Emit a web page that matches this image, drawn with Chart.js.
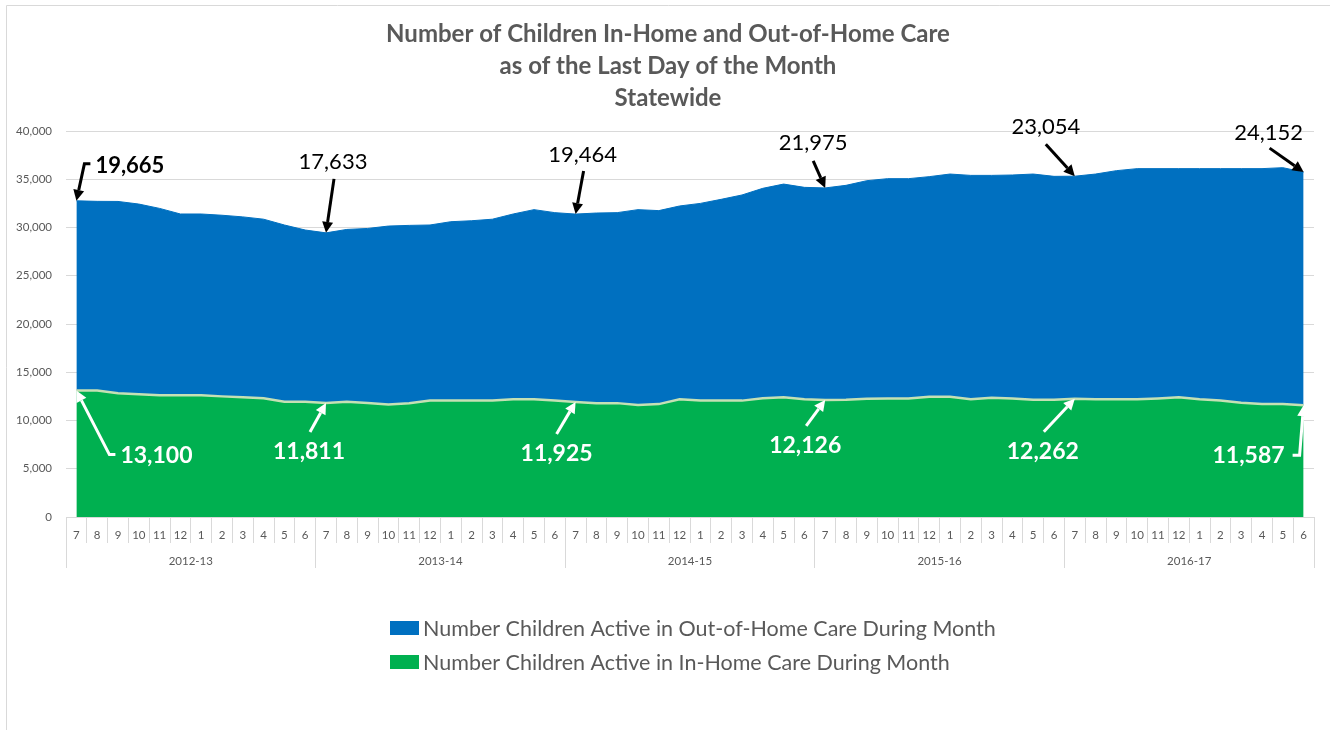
<!DOCTYPE html>
<html><head><meta charset="utf-8">
<script src="https://cdn.jsdelivr.net/npm/chart.js@4.4.1/dist/chart.umd.min.js"></script>
<style>html,body{margin:0;padding:0;background:#fff;overflow:hidden}</style>
</head><body>
<canvas id="c" width="1330" height="730" style="width:1330px;height:730px;display:block"></canvas>
<script>
const titleLines = ['Number of Children In-Home and Out-of-Home Care', 'as of the Last Day of the Month', 'Statewide'];
const months = ['7','8','9','10','11','12','1','2','3','4','5','6',
                '7','8','9','10','11','12','1','2','3','4','5','6',
                '7','8','9','10','11','12','1','2','3','4','5','6',
                '7','8','9','10','11','12','1','2','3','4','5','6',
                '7','8','9','10','11','12','1','2','3','4','5','6'];
const fiscalYears = ['2012-13','2013-14','2014-15','2015-16','2016-17'];
const outOfHomeLabel = 'Number Children Active in Out-of-Home Care During Month';
const inHomeLabel = 'Number Children Active in In-Home Care During Month';
const outOfHome = [19665,19610,19880,19710,19370,18790,18790,18770,18700,18560,18310,17790,
                   17633,17850,18090,18480,18420,18200,18540,18640,18800,19210,19660,19480,
                   19464,19700,19740,20250,20050,20040,20440,20860,21310,21760,22100,21970,
                   21975,22220,22600,22780,22780,22800,23070,23200,23030,23160,23390,23150,
                   23054,23340,23690,23900,23820,23700,23900,24040,24250,24400,24500,24152];
const inHome = [13100,13100,12820,12720,12610,12610,12610,12500,12400,12300,11950,11950,
                11811,11950,11811,11670,11800,12060,12060,12060,12060,12190,12190,12060,
                11925,11800,11800,11600,11700,12190,12060,12060,12060,12300,12400,12190,
                12126,12150,12250,12280,12280,12470,12470,12200,12370,12280,12150,12150,
                12262,12200,12200,12200,12280,12400,12200,12060,11850,11700,11700,11587];
const yMin = 0, yMax = 40000, yStep = 5000;
// callouts: [dataset key, index, label, bold]
const callouts = [
  ['out',0,'19,665',true],['out',12,'17,633',false],['out',24,'19,464',false],
  ['out',36,'21,975',false],['out',48,'23,054',false],['out',59,'24,152',false],
  ['in',0,'13,100',true],['in',12,'11,811',true],['in',24,'11,925',true],
  ['in',36,'12,126',true],['in',48,'12,262',true],['in',59,'11,587',true]
];
// drawing styles for each callout (label offset, align, arrow path offsets relative to tip)
const calloutStyle = [
  {lx:19,ly:-35,align:'left',path:[[14,-37],[8,-37]]},
  {lx:7,ly:-71,align:'center',path:[[8,-54]]},
  {lx:7,ly:-59,align:'center',path:[[8,-43]]},
  {lx:-12,ly:-45,align:'center',path:[[-12,-27]]},
  {lx:-29,ly:-49,align:'center',path:[[-29,-32]]},
  {lx:-35,ly:-39,align:'center',path:[[-34,-24]]},
  {lx:44,ly:65,align:'left',path:[[39,64],[33,64]]},
  {lx:-17,ly:49,align:'center',path:[[-16,29]]},
  {lx:-19,ly:52,align:'center',path:[[-19,32]]},
  {lx:-20,ly:46,align:'center',path:[[-19,26]]},
  {lx:-32,ly:53,align:'center',path:[[-31,33]]},
  {lx:-19,ly:50,align:'right',path:[[-11,50],[-4,50]]}
];

const FONT = 'Lato, "Open Sans", sans-serif';
const GRAY = '#595959';
const BLUE = '#0070C0';
const GREEN = '#00B050';

function arrow(ctx, pts, color) {
  const n = pts.length;
  const [tx, ty] = pts[n-1];
  const [px, py] = pts[n-2];
  const ang = Math.atan2(ty - py, tx - px);
  const L = 11, W = 5.5;
  const bx = tx - L * Math.cos(ang), by = ty - L * Math.sin(ang);
  ctx.save();
  ctx.strokeStyle = color; ctx.fillStyle = color; ctx.lineWidth = 3; ctx.lineJoin = 'miter';
  ctx.beginPath();
  ctx.moveTo(pts[0][0], pts[0][1]);
  for (let i = 1; i < n-1; i++) ctx.lineTo(pts[i][0], pts[i][1]);
  ctx.lineTo(bx, by);
  ctx.stroke();
  ctx.beginPath();
  ctx.moveTo(tx, ty);
  ctx.lineTo(bx + W * Math.sin(ang), by - W * Math.cos(ang));
  ctx.lineTo(bx - W * Math.sin(ang), by + W * Math.cos(ang));
  ctx.closePath(); ctx.fill();
  ctx.restore();
}

const decor = {
  id: 'decor',
  afterDraw(chart) {
    const ctx = chart.ctx;
    ctx.save();
    // frame
    ctx.strokeStyle = '#d9d9d9'; ctx.lineWidth = 1;
    ctx.beginPath(); ctx.moveTo(6.5, 730); ctx.lineTo(6.5, 5.5); ctx.lineTo(1330, 5.5); ctx.stroke();
    // title
    ctx.fillStyle = GRAY; ctx.textAlign = 'center'; ctx.textBaseline = 'middle';
    ctx.font = 'bold 24px ' + FONT;
    titleLines.forEach((t, i) => ctx.fillText(t, 668, 34 + i * 32));
    // legend (order: out-of-home first)
    const items = [[chart.data.datasets[1], 628], [chart.data.datasets[0], 662]];
    ctx.textAlign = 'left';
    ctx.font = '21.5px ' + FONT;
    items.forEach(([ds, y]) => {
      ctx.fillStyle = ds.backgroundColor;
      ctx.fillRect(390, y - 7, 29, 14);
      ctx.fillStyle = GRAY;
      ctx.fillText(ds.label, 423, y + 1);
    });
    // callouts
    const metaIn = chart.getDatasetMeta(0), metaOut = chart.getDatasetMeta(1);
    callouts.forEach(([key, idx, text, bold], k) => {
      const st = calloutStyle[k];
      const el = (key === 'out' ? metaOut : metaIn).data[idx];
      const tx = el.x, ty = el.y;
      const color = key === 'out' ? '#000000' : '#ffffff';
      const pts = st.path.map(([dx, dy]) => [tx + dx, ty + dy]);
      pts.push([tx, ty]);
      arrow(ctx, pts, color);
      ctx.fillStyle = color;
      ctx.textAlign = st.align; ctx.textBaseline = 'middle';
      ctx.font = (bold ? 'bold ' : '') + (key === 'out' ? '22px ' : '23px ') + FONT;
      ctx.fillText(text, tx + st.lx, ty + st.ly);
    });
    ctx.restore();
  }
};

new Chart(document.getElementById('c'), {
  type: 'line',
  data: {
    labels: months,
    datasets: [
      { label: inHomeLabel, data: inHome, backgroundColor: GREEN, borderColor: '#C5E0B4', borderWidth: 2.5,
        fill: 'origin', pointRadius: 0, tension: 0 },
      { label: outOfHomeLabel, data: outOfHome, backgroundColor: BLUE, borderColor: BLUE, borderWidth: 1,
        fill: '-1', pointRadius: 0, tension: 0 }
    ]
  },
  options: {
    responsive: false, animation: false,
    layout: { padding: { top: 131, right: 16, bottom: 162, left: 0 } },
    plugins: { legend: { display: false }, title: { display: false }, tooltip: { enabled: false } },
    scales: {
      x: {
        type: 'category', offset: true, weight: 0,
        grid: { offset: true, drawOnChartArea: false, tickLength: 26, color: '#d9d9d9', lineWidth: 1 },
        border: { display: true, color: '#d9d9d9' },
        ticks: { autoSkip: false, maxRotation: 0, minRotation: 0, padding: -15, color: GRAY,
                 font: { family: FONT, size: 11.5 } },
        afterFit(s) { s.height = 26; }
      },
      x2: {
        type: 'category', labels: fiscalYears, position: 'bottom', offset: true, weight: 1,
        grid: { offset: true, drawOnChartArea: false, tickLength: 25, color: '#d9d9d9', lineWidth: 1 },
        border: { display: false },
        ticks: { autoSkip: false, maxRotation: 0, padding: -14, color: GRAY, font: { family: FONT, size: 11.5 } },
        afterFit(s) { s.height = 25; }
      },
      y: {
        stacked: true, min: yMin, max: yMax,
        grid: { color: '#d9d9d9', drawTicks: false },
        border: { display: false },
        ticks: { stepSize: yStep, padding: 14, color: GRAY, font: { family: FONT, size: 11.5 },
                 callback: v => v.toLocaleString('en-US') },
        afterFit(s) { s.width = 66; }
      }
    }
  },
  plugins: [decor]
});
</script>
</body></html>
